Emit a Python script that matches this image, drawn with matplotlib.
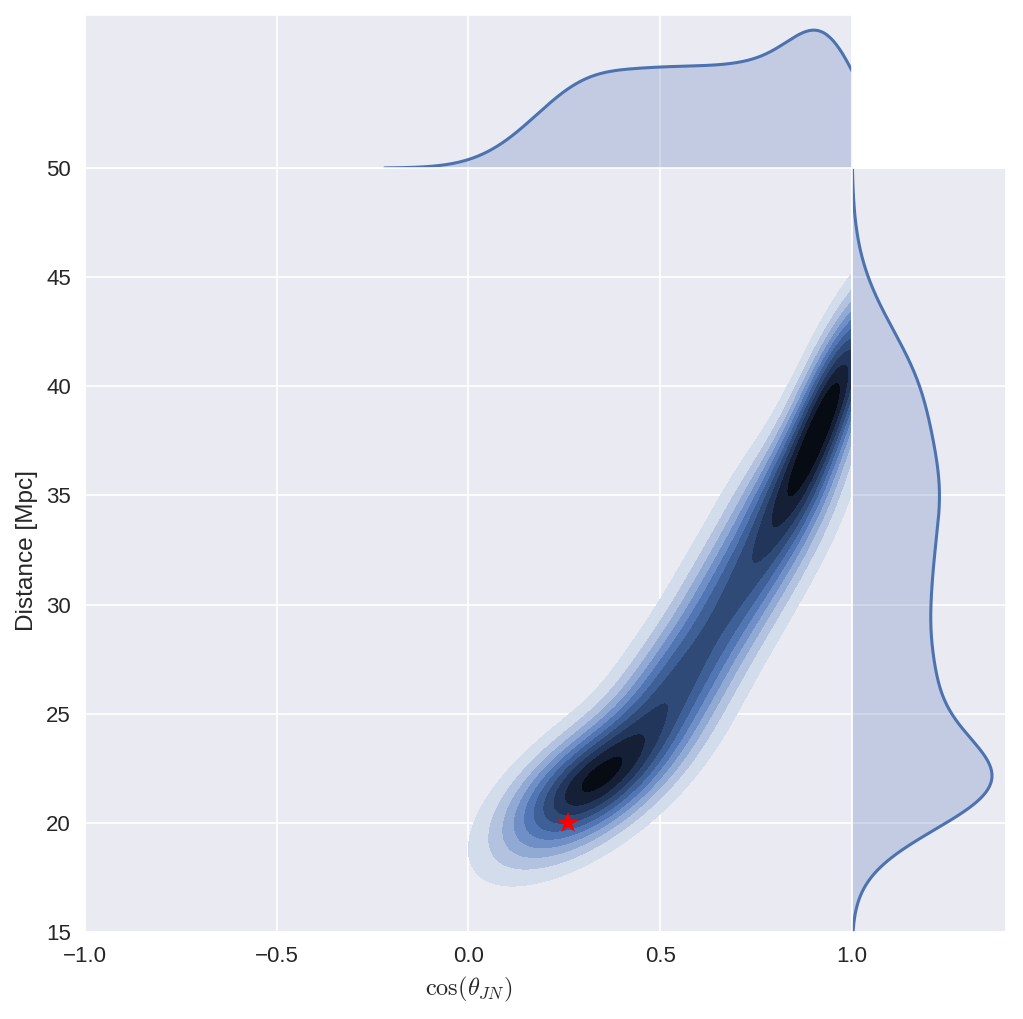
import numpy as np
import matplotlib
matplotlib.use("Agg")
import matplotlib.pyplot as plt
import seaborn as sns
from matplotlib.colors import ListedColormap

sns.set_style("darkgrid")
plt.rcParams['font.family'] = ['Liberation Sans', 'DejaVu Sans']
plt.rcParams['mathtext.fontset'] = 'cm'

# 后验分布的高斯混合近似
comp_w = [0.29, 0.14, 0.13, 0.13, 0.22]
comp_mx = [0.32, 0.54, 0.69, 0.82, 0.945]
comp_my = [21.8, 26.3, 30.5, 34.6, 39.4]
comp_sx = [0.15, 0.115, 0.108, 0.103, 0.094]
comp_sy = [2.2, 2.32, 2.43, 2.5, 3.4]
comp_rho = [0.64, 0.58, 0.56, 0.53, 0.80]

# 注入值
true_cos = 0.26
true_dist = 20.0

x_lim = (-1.0, 1.0)
y_lim = (15, 50)
x_kde_lo = -0.22

band_colors = ['#d3dcea', '#b3c3df', '#91aad4', '#6f8fc6', '#5276b4',
               '#3f5f97', '#304a78', '#22355a', '#151f36', '#070b14']


def gauss2d(xx, yy, mx, my, sx, sy, rho):
    dx = (xx - mx) / sx
    dy = (yy - my) / sy
    q = (dx ** 2 - 2 * rho * dx * dy + dy ** 2) / (1 - rho ** 2)
    return np.exp(-q / 2) / (2 * np.pi * sx * sy * np.sqrt(1 - rho ** 2))


def gauss1d(v, m, s):
    return np.exp(-0.5 * ((v - m) / s) ** 2) / (s * np.sqrt(2 * np.pi))


gx = np.linspace(-1.0, 1.0, 500)
gy = np.linspace(15, 50, 500)
xx, yy = np.meshgrid(gx, gy)
zz = np.zeros_like(xx)
px = np.zeros_like(gx)
py = np.zeros_like(gy)
for w, mx, my, sx, sy, r in zip(comp_w, comp_mx, comp_my, comp_sx, comp_sy, comp_rho):
    zz += w * gauss2d(xx, yy, mx, my, sx, sy, r)
    px += w * gauss1d(gx, mx, sx)
    py += w * gauss1d(gy, my, sy)

fig = plt.figure(figsize=(1023 / 146, 1019 / 146), dpi=146)
ax = fig.add_axes([0.0831, 0.0854, 0.7497, 0.7497])
ax_top = fig.add_axes([0.0831, 0.8351, 0.7497, 0.1502], sharex=ax)
ax_right = fig.add_axes([0.8328, 0.0854, 0.1506, 0.7497], sharey=ax)

# 联合分布
zmax = zz.max()
levels = zmax * np.arange(1, 12) / 11.0
ax.contourf(xx, yy, zz, levels=levels, cmap=ListedColormap(band_colors))
ax.plot(true_cos, true_dist, '*', color='red', markersize=11, markeredgewidth=0)
ax.set_xlim(*x_lim)
ax.set_ylim(*y_lim)
ax.set_xticks([-1.0, -0.5, 0.0, 0.5, 1.0])
ax.set_yticks([15, 20, 25, 30, 35, 40, 45, 50])
ax.tick_params(labelsize=11)
ax.set_xlabel(r'$\cos(\theta_{JN})$', fontsize=12)
ax.set_ylabel('Distance [Mpc]', fontsize=12)

# 边缘分布
line_c = '#4C72B0'
m = gx >= x_kde_lo
ax_top.plot(gx[m], px[m], color=line_c, lw=1.5)
ax_top.fill_between(gx[m], 0, px[m], color=line_c, alpha=0.25, lw=0)
ax_top.set_ylim(0, px.max() * 1.11)
ax_top.yaxis.grid(False)
ax_top.tick_params(labelbottom=False, labelleft=False, length=0)

ax_right.plot(py, gy, color=line_c, lw=1.5)
ax_right.fill_betweenx(gy, 0, py, color=line_c, alpha=0.25, lw=0)
ax_right.set_xlim(0, py.max() * 1.1)
ax_right.xaxis.grid(False)
ax_right.tick_params(labelbottom=False, labelleft=False, length=0)

fig.savefig('out.png', dpi=146)
